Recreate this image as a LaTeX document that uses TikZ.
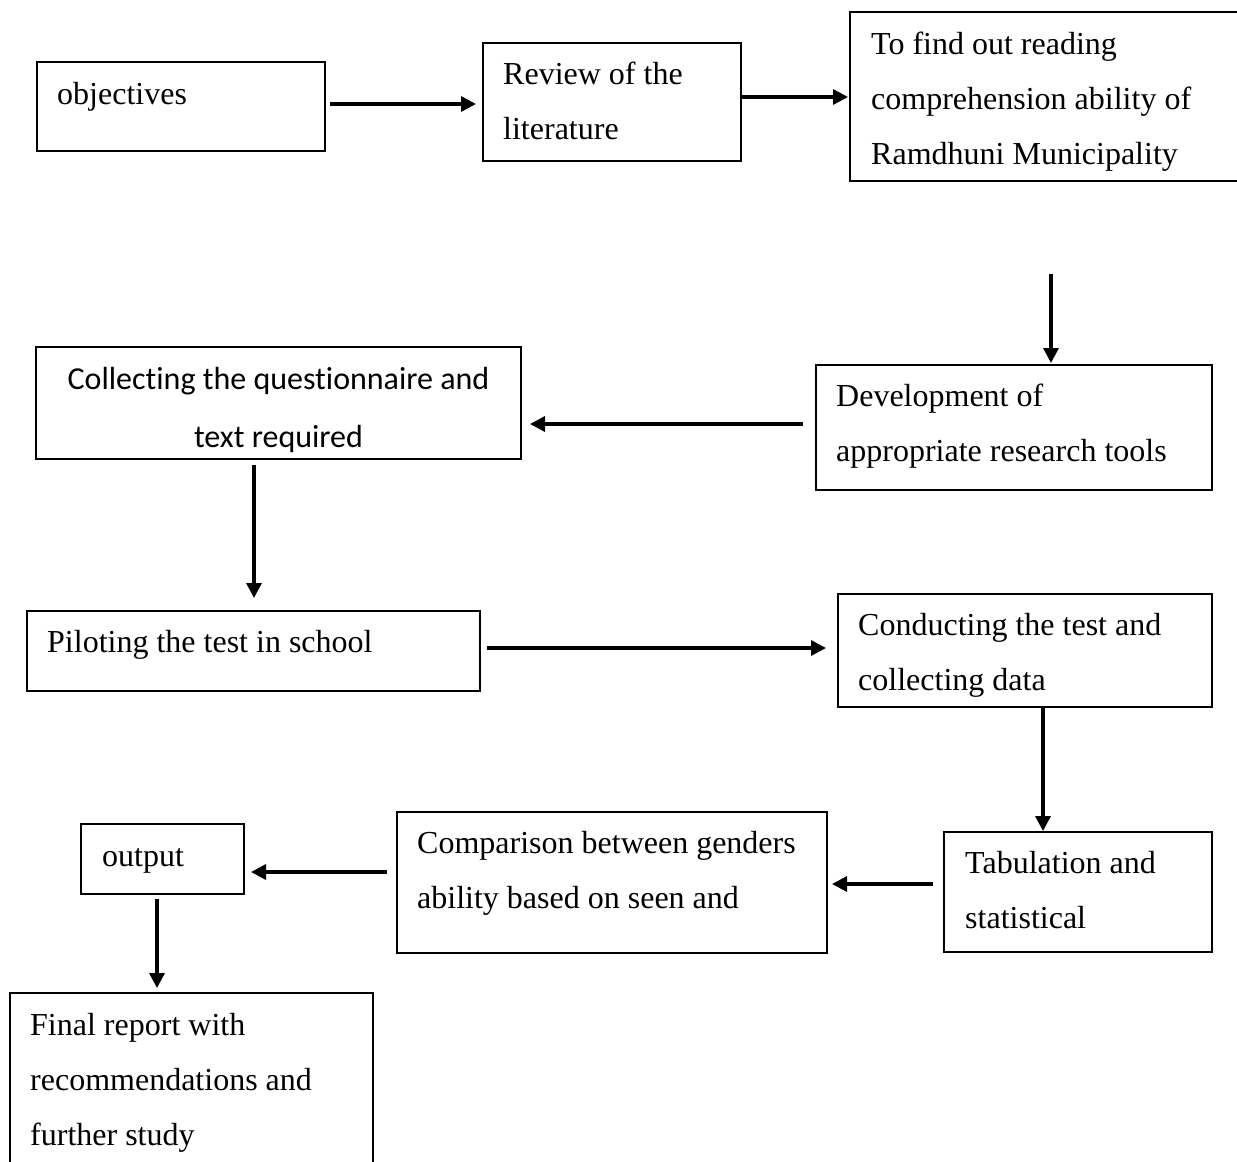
\documentclass[tikz,border=0pt]{standalone}
\usepackage{fontspec}
\setmainfont{Liberation Serif}
\newfontfamily\calibrifont[Ligatures=NoCommon]{Carlito}
\usetikzlibrary{arrows.meta}
\begin{document}
\begin{tikzpicture}[x=1pt,y=-1pt,
  box/.style={draw, line width=1.5pt, inner sep=0pt, outer sep=0pt, anchor=north west},
  txt/.style={anchor=base west, inner sep=0pt, font=\fontsize{32}{55}\selectfont},
  ctxt/.style={anchor=base, inner sep=0pt, font=\calibrifont\fontsize{32}{58}\selectfont},
  arr/.style={line width=3.3pt, -{Triangle[length=15pt,width=15pt]}}]
\useasboundingbox (0,0) rectangle (1237,1162);
\clip (0,0) rectangle (1237,1162);
% boxes
\node[box, minimum width=288pt, minimum height=89pt] (obj) at (37,62) {};
\node[box, minimum width=258pt, minimum height=118pt] (rev) at (483,43) {};
\node[box, minimum width=400pt, minimum height=169pt] (find) at (850,12) {};
\node[box, minimum width=396pt, minimum height=125pt] (dev) at (816,365) {};
\node[box, minimum width=485pt, minimum height=112pt] (col) at (36,347) {};
\node[box, minimum width=453pt, minimum height=80pt] (pil) at (27,611) {};
\node[box, minimum width=374pt, minimum height=113pt] (con) at (838,594) {};
\node[box, minimum width=268pt, minimum height=120pt] (tab) at (944,832) {};
\node[box, minimum width=430pt, minimum height=141pt] (cmp) at (397,812) {};
\node[box, minimum width=163pt, minimum height=70pt] (out) at (81,824) {};
\node[box, minimum width=363pt, minimum height=220pt] (fin) at (10,993) {};
% texts
\node[txt] (tobj) at (57,104) {objectives};
\node[txt] (trev) at (503,84) {\vtop{\hbox{Review of the}\hbox{literature}}};
\node[txt] (tfind) at (871,54) {\vtop{\hbox{To find out reading}\hbox{comprehension ability of}\hbox{Ramdhuni Municipality}}};
\node[txt] (tdev) at (836,406) {\vtop{\hbox{Development of}\hbox{appropriate research tools}}};
\node[ctxt] (tcol) at (278.5,389) {\vtop{\halign{\hfil#\hfil\cr Collecting the questionnaire and\cr text required\cr}}};
\node[txt] (tpil) at (47,652) {Piloting the test in school};
\node[txt] (tcon) at (858,635) {\vtop{\hbox{Conducting the test and}\hbox{collecting data}}};
\node[txt] (ttab) at (965,873) {\vtop{\hbox{Tabulation and}\hbox{statistical}}};
\node[txt] (tcmp) at (417,853) {\vtop{\hbox{Comparison between genders}\hbox{ability based on seen and}}};
\node[txt] (tout) at (102,866) {output};
\node[txt] (tfin) at (30,1035) {\vtop{\hbox{Final report with}\hbox{recommendations and}\hbox{further study}}};
% arrow start points
\coordinate (a0) at (330,104);
\coordinate (a9) at (741,97);
\coordinate (a1) at (1051,274);
\coordinate (a2) at (803,424);
\coordinate (a3) at (254,465);
\coordinate (a4) at (487,648);
\coordinate (a5) at (1043,707);
\coordinate (a6) at (933,884);
\coordinate (a7) at (387,872);
\coordinate (a8) at (157,899);
% arrows
\draw[arr, shorten >=7pt] (a0) -- (a0 -| rev.west);
\draw[arr, shorten >=2pt] (a9) -- (a9 -| find.west);
\draw[arr, shorten >=2pt] (a1) -- (a1 |- dev.north);
\draw[arr, shorten >=9pt] (a2) -- (a2 -| col.east);
\draw[arr, shorten >=13pt] (a3) -- (a3 |- pil.north);
\draw[arr, shorten >=12pt] (a4) -- (a4 -| con.west);
\draw[arr, shorten >=1pt] (a5) -- (a5 |- tab.north);
\draw[arr, shorten >=5pt] (a6) -- (a6 -| cmp.east);
\draw[arr, shorten >=7pt] (a7) -- (a7 -| out.east);
\draw[arr, shorten >=5pt] (a8) -- (a8 |- fin.north);
\end{tikzpicture}
\end{document}
